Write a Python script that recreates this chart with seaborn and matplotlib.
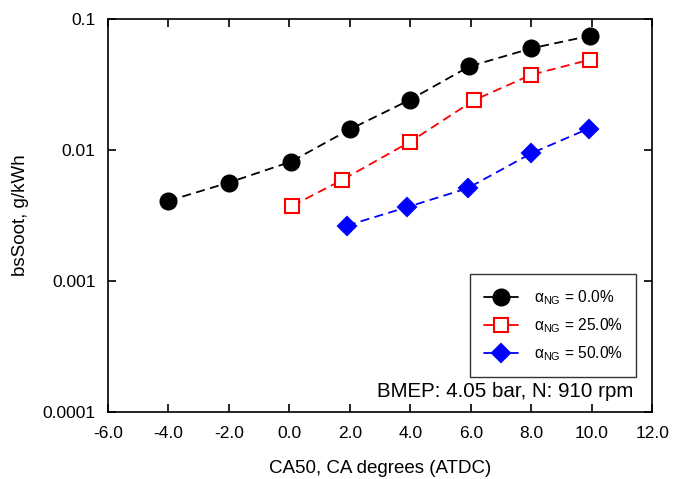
import numpy as np
import pandas as pd
import matplotlib
matplotlib.use("Agg")
import matplotlib.pyplot as plt
import seaborn as sns
from matplotlib.ticker import FixedLocator, FuncFormatter

sns.set_style("ticks")
plt.rcParams["font.family"] = ["Liberation Sans", "DejaVu Sans"]
plt.rcParams["axes.unicode_minus"] = False
plt.rcParams["mathtext.fontset"] = "custom"
plt.rcParams["mathtext.rm"] = "Liberation Sans"
plt.rcParams["mathtext.it"] = "Liberation Sans"
plt.rcParams["text.color"] = "black"
plt.rcParams["axes.labelcolor"] = "black"
plt.rcParams["xtick.color"] = "black"
plt.rcParams["ytick.color"] = "black"

# 数据：CA50 与 bsSoot
ca50_0 = [-4.0, -2.0, 0.05, 2.0, 4.0, 5.95, 8.0, 9.95]
soot_0 = [0.0041, 0.00565, 0.00815, 0.0144, 0.0243, 0.0435, 0.0598, 0.0747]

ca50_25 = [0.1, 1.75, 4.0, 6.1, 8.0, 9.95]
soot_25 = [0.00376, 0.00592, 0.0116, 0.0240, 0.0376, 0.0491]

ca50_50 = [1.9, 3.9, 5.9, 8.0, 9.9]
soot_50 = [0.00265, 0.00367, 0.00512, 0.00944, 0.0146]

labels = [r"α$_{\mathrm{NG}}$ = 0.0%", r"α$_{\mathrm{NG}}$ = 25.0%", r"α$_{\mathrm{NG}}$ = 50.0%"]

fig = plt.figure(figsize=(6.73, 4.79), dpi=100)
ax = fig.add_axes([0.1605, 0.140, 0.8085, 0.820])

series = [
    (ca50_0, soot_0, "black", "o", "black", 11.5, labels[0]),
    (ca50_25, soot_25, "red", "s", "white", 10, labels[1]),
    (ca50_50, soot_50, "blue", "D", "blue", 9, labels[2]),
]
for x, y, c, m, fc, ms, lab in series:
    sns.lineplot(x=x, y=y, ax=ax, color=c, marker=m, markersize=ms,
                 markerfacecolor=fc, markeredgecolor=c, markeredgewidth=1.5,
                 linewidth=1.3, dashes=False, label=lab, sort=False)
for line in ax.get_lines():
    line.set_dashes((5, 3))

ax.set_yscale("log")
ax.set_xlim(-6, 12)
ax.set_ylim(0.0001, 0.1)
ax.xaxis.set_major_locator(FixedLocator(np.arange(-6, 12.1, 2)))
ax.xaxis.set_major_formatter(FuncFormatter(lambda v, p: "%.1f" % v))
ax.yaxis.set_major_locator(FixedLocator([0.0001, 0.001, 0.01, 0.1]))
ax.yaxis.set_major_formatter(FuncFormatter(lambda v, p: "%g" % v))
ax.yaxis.set_minor_locator(FixedLocator([]))
ax.tick_params(which="both", direction="in", top=True, right=True,
               length=6, width=1.2, labelsize=12.5)
ax.tick_params(axis="x", pad=10)
ax.tick_params(axis="y", pad=9)
for s in ax.spines.values():
    s.set_linewidth(1.2)
    s.set_color("black")

ax.set_xlabel("CA50, CA degrees (ATDC)", fontsize=13.5, labelpad=14)
ax.set_ylabel("bsSoot, g/kWh", fontsize=13.5, labelpad=10)

leg = ax.legend(loc="lower right", bbox_to_anchor=(0.971, 0.089), fontsize=11.2,
                frameon=True, fancybox=False, edgecolor="black", handlelength=2.2,
                borderpad=0.9, labelspacing=0.6, handletextpad=1.0, borderaxespad=0)
leg.get_frame().set_linewidth(1.0)
for h in leg.get_lines():
    h.set_linestyle("-")

ax.text(0.965, 0.053, "BMEP: 4.05 bar, N: 910 rpm", transform=ax.transAxes,
        ha="right", va="center", fontsize=14.8)

fig.savefig("out.png", dpi=100)
